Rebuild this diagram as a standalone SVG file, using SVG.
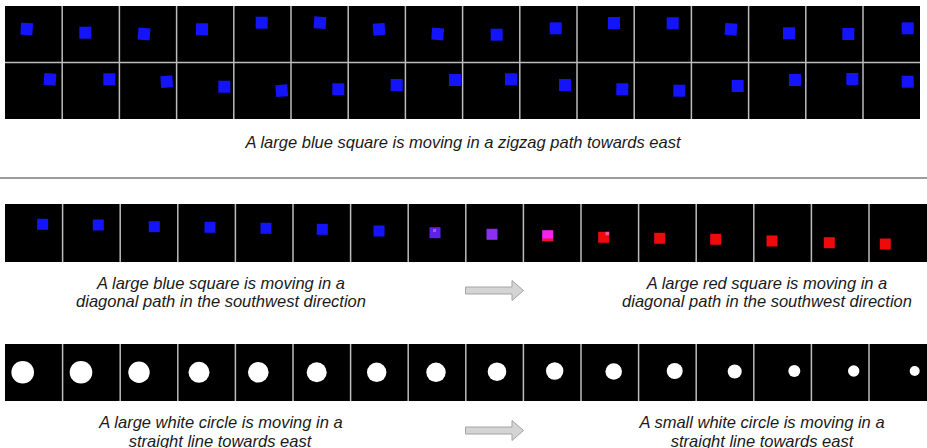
<svg xmlns="http://www.w3.org/2000/svg" width="927" height="448" viewBox="0 0 927 448">
<style>
.strip{fill:#000}
.div{stroke:#bdbdbd;stroke-width:1.5}
.b{fill:#1414fa}
.r{fill:#ee0a0a}
.w{fill:#fff}
.cap{font-family:"Liberation Sans",Arial,sans-serif;font-style:italic;font-size:16.5px;fill:#1a1a1a;text-anchor:middle}
.arr{fill:#d4d4d4;stroke:#a4a4a4;stroke-width:1}
</style>
<defs>
<rect id="sq" x="-6" y="-6" width="12" height="12"/>
<rect id="sq2" x="-5.5" y="-5.5" width="11" height="11"/>
</defs>

<g id="zigzag-grid">
<rect class="strip" x="5" y="6" width="915" height="113"/>
<g id="zigzag-row1">
<use href="#sq" class="b" x="26.7" y="29" transform="rotate(3 26.7 29)"/>
<use href="#sq" class="b" x="85.3" y="32.7"/>
<use href="#sq" class="b" x="144" y="34" transform="rotate(5 144 34)"/>
<use href="#sq" class="b" x="202" y="29.3"/>
<use href="#sq" class="b" x="261.7" y="22.7"/>
<use href="#sq" class="b" x="320" y="22.7" transform="rotate(4 320 22.7)"/>
<use href="#sq" class="b" x="379" y="29.3" transform="rotate(-4 379 29.3)"/>
<use href="#sq" class="b" x="437.7" y="34" transform="rotate(4 437.7 34)"/>
<use href="#sq" class="b" x="496.7" y="34.7"/>
<use href="#sq" class="b" x="555.7" y="28.3"/>
<use href="#sq" class="b" x="614" y="23"/>
<use href="#sq" class="b" x="672.7" y="23.3"/>
<use href="#sq" class="b" x="731" y="29.3" transform="rotate(4 731 29.3)"/>
<use href="#sq" class="b" x="789" y="33.3"/>
<use href="#sq" class="b" x="848.3" y="34"/>
<use href="#sq" class="b" x="907.7" y="28.3"/>
</g>
<g id="zigzag-row2">
<use href="#sq" class="b" x="50" y="79.3" transform="rotate(4 50 79.3)"/>
<use href="#sq" class="b" x="109.3" y="79.3"/>
<use href="#sq" class="b" x="166.7" y="81.7" transform="rotate(-4 166.7 81.7)"/>
<use href="#sq" class="b" x="224.3" y="86.7"/>
<use href="#sq" class="b" x="281.7" y="90.7" transform="rotate(-4 281.7 90.7)"/>
<use href="#sq" class="b" x="338.3" y="89.3"/>
<use href="#sq" class="b" x="396.7" y="85"/>
<use href="#sq" class="b" x="455" y="80"/>
<use href="#sq" class="b" x="511" y="79.3"/>
<use href="#sq" class="b" x="565" y="85"/>
<use href="#sq" class="b" x="622.3" y="89.3"/>
<use href="#sq" class="b" x="679.3" y="90.7"/>
<use href="#sq" class="b" x="737.7" y="86"/>
<use href="#sq" class="b" x="795" y="80"/>
<use href="#sq" class="b" x="852.3" y="79"/>
<use href="#sq" class="b" x="907.7" y="81.7"/>
</g>
<g id="zigzag-dividers" class="div">
<line x1="5" y1="62.5" x2="920" y2="62.5"/>
<line x1="62.2" y1="6" x2="62.2" y2="119"/>
<line x1="119.4" y1="6" x2="119.4" y2="119"/>
<line x1="176.6" y1="6" x2="176.6" y2="119"/>
<line x1="233.8" y1="6" x2="233.8" y2="119"/>
<line x1="291" y1="6" x2="291" y2="119"/>
<line x1="348.2" y1="6" x2="348.2" y2="119"/>
<line x1="405.4" y1="6" x2="405.4" y2="119"/>
<line x1="462.6" y1="6" x2="462.6" y2="119"/>
<line x1="519.8" y1="6" x2="519.8" y2="119"/>
<line x1="577" y1="6" x2="577" y2="119"/>
<line x1="634.2" y1="6" x2="634.2" y2="119"/>
<line x1="691.4" y1="6" x2="691.4" y2="119"/>
<line x1="748.6" y1="6" x2="748.6" y2="119"/>
<line x1="805.8" y1="6" x2="805.8" y2="119"/>
<line x1="863" y1="6" x2="863" y2="119"/>
</g>
</g>
<text id="caption-zigzag" class="cap" x="463" y="148">A large blue square is moving in a zigzag path towards east</text>

<line id="separator" x1="0" y1="178" x2="927" y2="178" stroke="#7a7a7a" stroke-width="1.5"/>

<g id="diagonal-strip">
<rect class="strip" x="5" y="204" width="922" height="58"/>
<use href="#sq2" class="b" x="42.7" y="224.3"/>
<use href="#sq2" class="b" x="98.3" y="225"/>
<use href="#sq2" class="b" x="154.3" y="226.7"/>
<use href="#sq2" class="b" x="210" y="227.3"/>
<use href="#sq2" class="b" x="266" y="228.3"/>
<use href="#sq2" class="b" x="322.3" y="229.3"/>
<use href="#sq2" class="b" x="379" y="231"/>
<use href="#sq2" x="435" y="232.7" fill="#5a22ee"/>
<rect x="433" y="229" width="3" height="3" fill="#d040f0"/>
<use href="#sq2" x="492" y="234.3" fill="#8a30f2"/>
<use href="#sq2" x="547.7" y="235.7" fill="#f224ee"/>
<rect x="542.2" y="238.5" width="11" height="2.7" fill="#f01030"/>
<use href="#sq2" class="r" x="603.7" y="237.3"/>
<rect x="605.5" y="231.8" width="3.7" height="3.5" fill="#f050b0"/>
<use href="#sq2" class="r" x="659.7" y="238.3"/>
<use href="#sq2" class="r" x="715.7" y="239.3"/>
<use href="#sq2" class="r" x="772" y="241"/>
<use href="#sq2" class="r" x="829.3" y="242.7"/>
<use href="#sq2" class="r" x="885.3" y="244"/>
<g class="div">
<line x1="62.6" y1="204" x2="62.6" y2="262"/>
<line x1="120.2" y1="204" x2="120.2" y2="262"/>
<line x1="177.8" y1="204" x2="177.8" y2="262"/>
<line x1="235.4" y1="204" x2="235.4" y2="262"/>
<line x1="293" y1="204" x2="293" y2="262"/>
<line x1="350.6" y1="204" x2="350.6" y2="262"/>
<line x1="408.2" y1="204" x2="408.2" y2="262"/>
<line x1="465.8" y1="204" x2="465.8" y2="262"/>
<line x1="523.4" y1="204" x2="523.4" y2="262"/>
<line x1="581" y1="204" x2="581" y2="262"/>
<line x1="638.6" y1="204" x2="638.6" y2="262"/>
<line x1="696.2" y1="204" x2="696.2" y2="262"/>
<line x1="753.8" y1="204" x2="753.8" y2="262"/>
<line x1="811.4" y1="204" x2="811.4" y2="262"/>
<line x1="869" y1="204" x2="869" y2="262"/>
</g>
</g>
<text id="caption-blue-diagonal" class="cap" x="221" y="288.5">A large blue square is moving in a<tspan x="221" y="307">diagonal path in the southwest direction</tspan></text>
<text id="caption-red-diagonal" class="cap" x="767" y="288.5">A large red square is moving in a<tspan x="767" y="307">diagonal path in the southwest direction</tspan></text>

<g id="circle-strip">
<rect class="strip" x="5" y="344" width="922" height="57"/>
<circle class="w" cx="22.7" cy="372.3" r="11.3"/>
<circle class="w" cx="81" cy="372.3" r="11.3"/>
<circle class="w" cx="139" cy="372.3" r="10.7"/>
<circle class="w" cx="199" cy="372.3" r="10.5"/>
<circle class="w" cx="258.3" cy="372.3" r="10.3"/>
<circle class="w" cx="316.7" cy="372.3" r="10"/>
<circle class="w" cx="376.7" cy="372.3" r="9.7"/>
<circle class="w" cx="436" cy="372.3" r="9.7"/>
<circle class="w" cx="497" cy="371.7" r="9.3"/>
<circle class="w" cx="554.7" cy="371" r="8.7"/>
<circle class="w" cx="613.7" cy="371.5" r="8.3"/>
<circle class="w" cx="674.7" cy="371" r="8"/>
<circle class="w" cx="734.7" cy="371.5" r="7"/>
<circle class="w" cx="794.3" cy="371" r="6"/>
<circle class="w" cx="853.7" cy="371" r="5.7"/>
<circle class="w" cx="914.7" cy="371" r="5"/>
<g class="div">
<line x1="62.6" y1="344" x2="62.6" y2="401"/>
<line x1="120.2" y1="344" x2="120.2" y2="401"/>
<line x1="177.8" y1="344" x2="177.8" y2="401"/>
<line x1="235.4" y1="344" x2="235.4" y2="401"/>
<line x1="293" y1="344" x2="293" y2="401"/>
<line x1="350.6" y1="344" x2="350.6" y2="401"/>
<line x1="408.2" y1="344" x2="408.2" y2="401"/>
<line x1="465.8" y1="344" x2="465.8" y2="401"/>
<line x1="523.4" y1="344" x2="523.4" y2="401"/>
<line x1="581" y1="344" x2="581" y2="401"/>
<line x1="638.6" y1="344" x2="638.6" y2="401"/>
<line x1="696.2" y1="344" x2="696.2" y2="401"/>
<line x1="753.8" y1="344" x2="753.8" y2="401"/>
<line x1="811.4" y1="344" x2="811.4" y2="401"/>
<line x1="869" y1="344" x2="869" y2="401"/>
</g>
</g>
<text id="caption-large-circle" class="cap" x="221" y="428">A large white circle is moving in a<tspan x="220" y="446.5">straight line towards east</tspan></text>
<text id="caption-small-circle" class="cap" x="762" y="428">A small white circle is moving in a<tspan x="762" y="446.5">straight line towards east</tspan></text>

<g id="connectors">
<polygon class="arr" points="465.5,287 512,287 512,280.5 523.5,290.5 512,300.5 512,294 465.5,294"/>
<polygon class="arr" points="465.5,427 512,427 512,420.5 523.5,430.5 512,440.5 512,434 465.5,434"/>
</g>
</svg>
